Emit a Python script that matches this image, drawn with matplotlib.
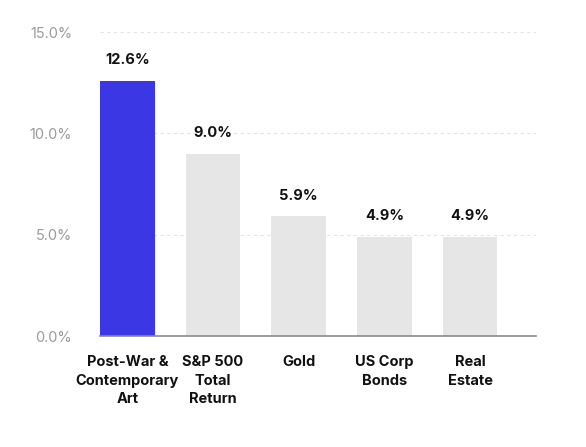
import matplotlib
matplotlib.use("Agg")
import matplotlib.pyplot as plt

plt.rcParams["font.family"] = ["Inter", "DejaVu Sans"]

categories = ["Post-War &\nContemporary\nArt", "S&P 500\nTotal\nReturn", "Gold", "US Corp\nBonds", "Real\nEstate"]
returns = [12.6, 9.0, 5.9, 4.9, 4.9]
value_labels = ["12.6%", "9.0%", "5.9%", "4.9%", "4.9%"]
y_ticks = [0, 5, 10, 15]
y_tick_labels = ["0.0%", "5.0%", "10.0%", "15.0%"]

colors = ["#3B37E4"] + ["#E6E6E6"] * (len(returns) - 1)

fig = plt.figure(figsize=(5.86, 4.47), dpi=100)
ax = fig.add_axes([0.1706, 0.2483, 0.744, 0.680])

x = range(len(categories))
bars = ax.bar(x, returns, width=0.64, color=colors, zorder=2)

for b, lab in zip(bars, value_labels):
    ax.annotate(lab, (b.get_x() + b.get_width() / 2, b.get_height()),
                xytext=(0, 10), textcoords="offset points",
                ha="center", va="bottom", fontsize=10.5, fontweight="bold", color="#111111")

ax.set_xlim(-0.32, 4.77)
ax.set_ylim(0, 15)
ax.set_yticks(y_ticks)
ax.set_yticklabels(y_tick_labels, fontsize=10.5, color="#9A9A9A")
ax.set_xticks(list(x))
ax.set_xticklabels(categories, fontsize=10.5, fontweight="bold", color="#111111", linespacing=1.4, va="top")
ax.tick_params(axis="y", length=0, pad=20)
ax.tick_params(axis="x", length=0, pad=14)

for v in y_ticks[1:]:
    ax.axhline(v, color="#E4E4E4", linestyle=(0, (3, 3)), linewidth=0.8, zorder=1)

for s in ["top", "right", "left"]:
    ax.spines[s].set_visible(False)
ax.spines["bottom"].set_color("#8A8A8A")
ax.spines["bottom"].set_linewidth(1.2)
ax.spines["bottom"].set_zorder(3)

plt.savefig("out.png", dpi=100)
plt.close()
